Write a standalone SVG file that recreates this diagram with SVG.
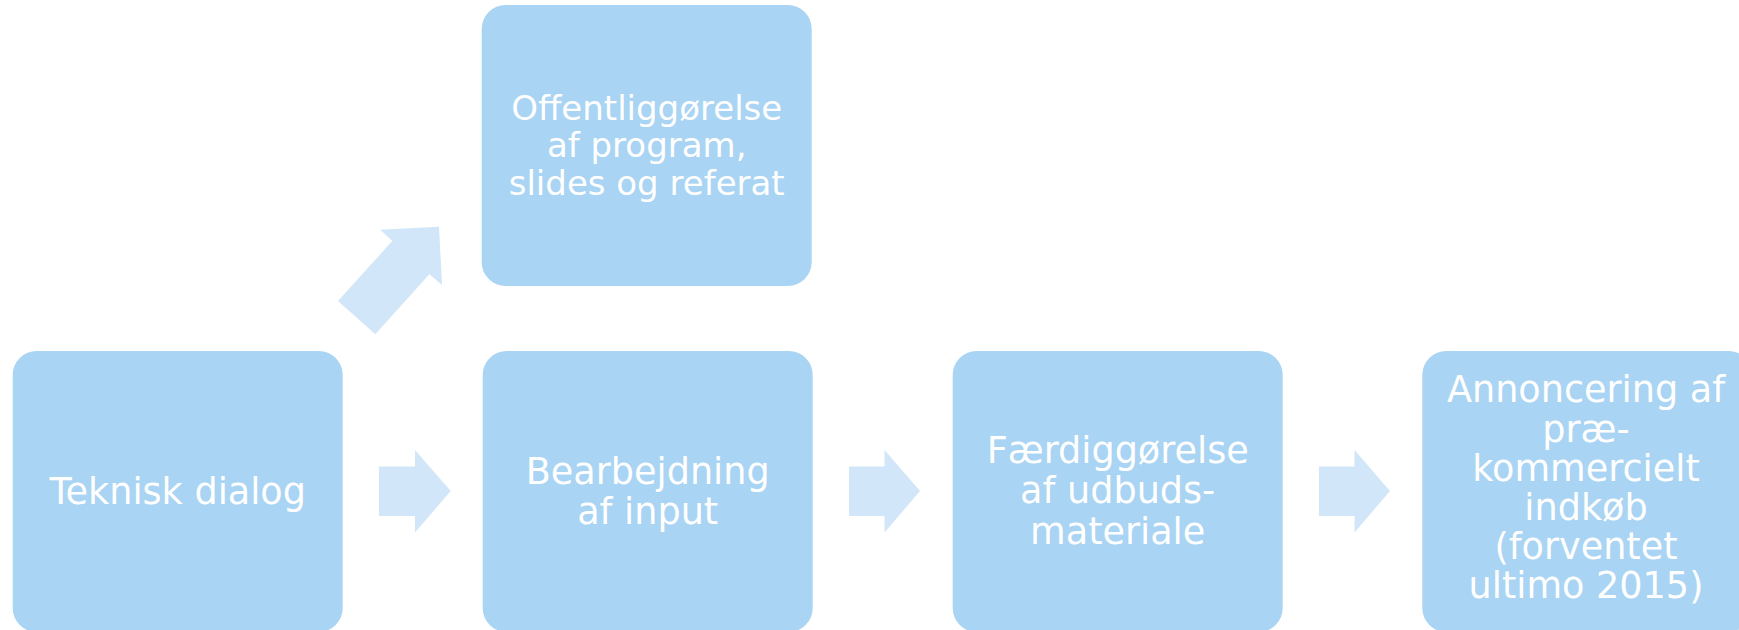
<svg xmlns="http://www.w3.org/2000/svg" width="1739" height="630" viewBox="0 0 1739 630">
<style>
.box{fill:#A9D4F3;}
.arrow{fill:#D1E6F8;}
.t{fill:#FFFFFF;font-family:"DejaVu Sans","Liberation Sans",sans-serif;text-anchor:middle;}
.b{font-size:36.6px;}
.s{font-size:34px;}
</style>
<rect width="1739" height="630" fill="#FFFFFF"/>
<g id="connectors">
<polygon class="arrow" points="379,466.5 415,466.5 415,450 450.7,491 415,532.5 415,516 379,516"/>
<polygon class="arrow" points="849,466.5 884.5,466.5 884.5,450 920,491 884.5,532.5 884.5,516 849,516"/>
<polygon class="arrow" points="1319,466.5 1354.5,466.5 1354.5,450 1390,491 1354.5,532.5 1354.5,516 1319,516"/>
<polygon class="arrow" points="338,301 392.3,241 380.3,229.7 439,226.7 442,285 429.3,274.3 375.3,334.3"/>
</g>
<g id="node-teknisk">
<rect class="box" x="12.7" y="351" width="330" height="281" rx="24"/>
<text class="t b" x="177.7" y="504">Teknisk dialog</text>
</g>
<g id="node-offentliggoerelse">
<rect class="box" x="481.7" y="5" width="330" height="281" rx="24"/>
<text class="t s" x="646.7" y="119.5">Offentliggørelse</text>
<text class="t s" x="646.7" y="157">af program,</text>
<text class="t s" x="646.7" y="194.5">slides og referat</text>
</g>
<g id="node-bearbejdning">
<rect class="box" x="482.7" y="351" width="330" height="281" rx="24"/>
<text class="t b" x="647.7" y="484">Bearbejdning</text>
<text class="t b" x="647.7" y="524.3">af input</text>
</g>
<g id="node-faerdiggoerelse">
<rect class="box" x="952.7" y="351" width="330" height="281" rx="24"/>
<text class="t b" x="1117.7" y="462.5">Færdiggørelse</text>
<text class="t b" x="1117.7" y="503.3">af udbuds-</text>
<text class="t b" x="1117.7" y="544">materiale</text>
</g>
<g id="node-annoncering">
<rect class="box" x="1422.3" y="351" width="330" height="281" rx="24"/>
<text class="t b" x="1586" y="402.3">Annoncering af</text>
<text class="t b" x="1586" y="441.5">præ-</text>
<text class="t b" x="1586" y="480.7">kommercielt</text>
<text class="t b" x="1586" y="519.9">indkøb</text>
<text class="t b" x="1586" y="559.1">(forventet</text>
<text class="t b" x="1586" y="598.3">ultimo 2015)</text>
</g>
</svg>
